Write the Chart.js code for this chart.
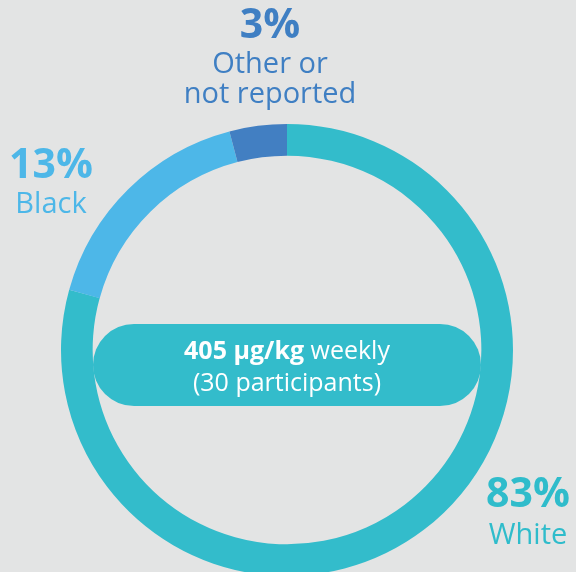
<!DOCTYPE html>
<html>
<head>
<meta charset="utf-8">
<script src="https://cdn.jsdelivr.net/npm/chart.js@4/dist/chart.umd.min.js"></script>
<style>
  html, body { margin: 0; padding: 0; background: #e3e4e4; overflow: hidden; }
  #wrap { position: relative; width: 576px; height: 580px; }
</style>
</head>
<body>
<div id="wrap"><canvas id="c"></canvas></div>
<script>
// Data (arc sizes as drawn in the picture, and the printed labels)
const categories = ['White', 'Black', 'Other or not reported'];
const sliceShares = [79.3, 16.6, 4.1];
const percentLabels = ['83%', '13%', '3%'];
const nameLines = [['White'], ['Black'], ['Other or', 'not reported']];
const centerBold = '405 µg/kg';
const centerRest = ' weekly';
const centerLine2 = '(30 participants)';

const colors = ['#33bccb', '#4db7e8', '#427fc2'];
const textColors = ['#2fbccb', '#4db7e8', '#3f7fc3'];
const FONT = '"Open Sans", "Noto Sans", sans-serif';

// label placements: [x, pctBaseline, firstNameBaseline]
const labelPos = [
  [528, 507, 544],
  [51, 178, 213],
  [270, 38, 73]
];

const overlay = {
  id: 'overlay',
  afterDraw(chart) {
    const ctx = chart.ctx;
    const arc = chart.getDatasetMeta(0).data[0];
    const cx = arc.x, cy = arc.y;
    ctx.save();
    // center pill
    const pw = 388, ph = 82, pt = cy - 26;
    const pl = cx - pw / 2, r = ph / 2;
    ctx.fillStyle = colors[0];
    ctx.beginPath();
    ctx.moveTo(pl + r, pt);
    ctx.lineTo(pl + pw - r, pt);
    ctx.arc(pl + pw - r, pt + r, r, -Math.PI / 2, Math.PI / 2);
    ctx.lineTo(pl + r, pt + ph);
    ctx.arc(pl + r, pt + r, r, Math.PI / 2, Math.PI * 1.5);
    ctx.closePath();
    ctx.fill();

    ctx.fillStyle = '#ffffff';
    ctx.textBaseline = 'alphabetic';
    ctx.textAlign = 'left';
    const fb = '700 25px ' + FONT, fn = '400 25px ' + FONT;
    ctx.font = fb; const wb = ctx.measureText(centerBold).width;
    ctx.font = fn; const wn = ctx.measureText(centerRest).width;
    let sx = cx - (wb + wn) / 2;
    ctx.font = fb; ctx.fillText(centerBold, sx, cy + 9);
    ctx.font = fn; ctx.fillText(centerRest, sx + wb, cy + 9);
    ctx.textAlign = 'center';
    ctx.fillText(centerLine2, cx, cy + 41);

    // outer labels
    categories.forEach((c, i) => {
      const [x, yp, yn] = labelPos[i];
      ctx.fillStyle = textColors[i];
      ctx.font = '700 41px ' + FONT;
      ctx.fillText(percentLabels[i], x, yp);
      ctx.font = '400 29px ' + FONT;
      nameLines[i].forEach((ln, j) => ctx.fillText(ln, x, yn + j * 30));
    });
    ctx.restore();
  }
};

new Chart(document.getElementById('c'), {
  type: 'doughnut',
  data: {
    labels: categories,
    datasets: [{
      data: sliceShares,
      backgroundColor: colors,
      borderWidth: 0,
      hoverOffset: 0
    }]
  },
  options: {
    responsive: true,
    maintainAspectRatio: false,
    animation: false,
    cutout: '86%',
    rotation: 0,
    layout: { padding: { top: 124, bottom: 4, left: 61, right: 63 } },
    plugins: { legend: { display: false }, tooltip: { enabled: false } }
  },
  plugins: [overlay]
});
</script>
</body>
</html>
